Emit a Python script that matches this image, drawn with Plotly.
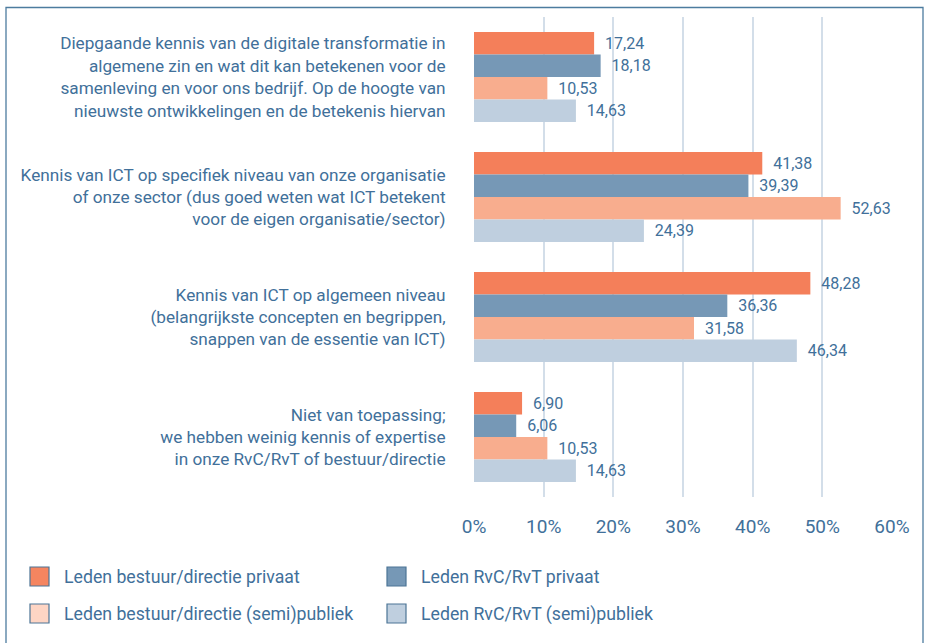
import plotly.graph_objects as go

categories = [
    "Diepgaande kennis van de digitale transformatie in<br>algemene zin en wat dit kan betekenen voor de<br>samenleving en voor ons bedrijf. Op de hoogte van<br>nieuwste ontwikkelingen en de betekenis hiervan",
    "Kennis van ICT op specifiek niveau van onze organisatie<br>of onze sector (dus goed weten wat ICT betekent<br>voor de eigen organisatie/sector)",
    "Kennis van ICT op algemeen niveau<br>(belangrijkste concepten en begrippen,<br>snappen van de essentie van ICT)",
    "Niet van toepassing;<br>we hebben weinig kennis of expertise<br>in onze RvC/RvT of bestuur/directie",
]

series_names = [
    "Leden bestuur/directie privaat",
    "Leden RvC/RvT privaat",
    "Leden bestuur/directie (semi)publiek",
    "Leden RvC/RvT (semi)publiek",
]

bestuur_privaat = [17.24, 41.38, 48.28, 6.90]
rvc_privaat = [18.18, 39.39, 36.36, 6.06]
bestuur_semipubliek = [10.53, 52.63, 31.58, 10.53]
rvc_semipubliek = [14.63, 24.39, 46.34, 14.63]

tick_values = [0, 10, 20, 30, 40, 50, 60]
tick_labels = ["0%", "10%", "20%", "30%", "40%", "50%", "60%"]

series_values = [bestuur_privaat, rvc_privaat, bestuur_semipubliek, rvc_semipubliek]
colors = ["#f47f5a", "#7698b6", "#f8ad8e", "#bfcfdf"]
legend_fill = ["#f58560", "#7698b6", "#fed5c4", "#bfcfdf"]

FONT = "Roboto, sans-serif"
TXT = "#41709a"
W, H = 926, 643
L, R, T, B = 474, 892, 17, 497


def px_x(px):
    return (px - L) / (R - L)


def px_y(py):
    return (B - py) / (B - T)


def font(size):
    return dict(family=FONT, size=size, color=TXT)


fig = go.Figure()
for name, vals, col in zip(series_names, series_values, colors):
    fig.add_trace(go.Bar(
        y=categories, x=vals, name=name, orientation="h",
        marker=dict(color=col, line=dict(width=0)),
        texttemplate="\u00a0\u00a0%{x:.2f}", textposition="outside",
        textfont=font(16),
        cliponaxis=False, showlegend=False,
    ))

# legend drawn as framed swatches with labels
legend_pos = [(30, 577), (387, 577), (30, 614), (387, 614)]
for (lx, ly), name, fill in zip(legend_pos, series_names, legend_fill):
    fig.add_shape(type="rect", xref="paper", yref="paper",
                  x0=px_x(lx), x1=px_x(lx + 19), y0=px_y(ly - 10), y1=px_y(ly + 9),
                  fillcolor=fill, line=dict(color="#4c7596", width=1.2))
    fig.add_annotation(xref="paper", yref="paper", x=px_x(lx + 32), y=px_y(ly),
                       xanchor="left", yanchor="middle", showarrow=False,
                       text=name, font=font(17.7))

# outer frame
fig.add_shape(type="rect", xref="paper", yref="paper",
              x0=px_x(6), x1=px_x(923), y0=px_y(670), y1=px_y(7.5),
              line=dict(color="#4d7c9f", width=1.3), fillcolor="rgba(0,0,0,0)", layer="below")

fig.update_layout(
    width=W, height=H,
    margin=dict(l=L, r=W - R, t=T, b=H - B, autoexpand=False),
    barmode="group", bargap=0.25, bargroupgap=0,
    separators=", ",
    plot_bgcolor="white", paper_bgcolor="white",
    font=font(17),
)
fig.update_xaxes(
    range=[0, 60], tickvals=tick_values, ticktext=tick_labels,
    showgrid=True, gridcolor="#d3dee9", gridwidth=1.5, zeroline=False,
    ticks="outside", ticklen=12, tickcolor="rgba(0,0,0,0)",
    tickfont=font(19), showline=False,
)
fig.update_yaxes(
    autorange="reversed", showgrid=False, zeroline=False, showline=False,
    ticks="outside", ticklen=24, tickcolor="rgba(0,0,0,0)",
    tickfont=font(17.2),
)

fig.write_html("out.html")
